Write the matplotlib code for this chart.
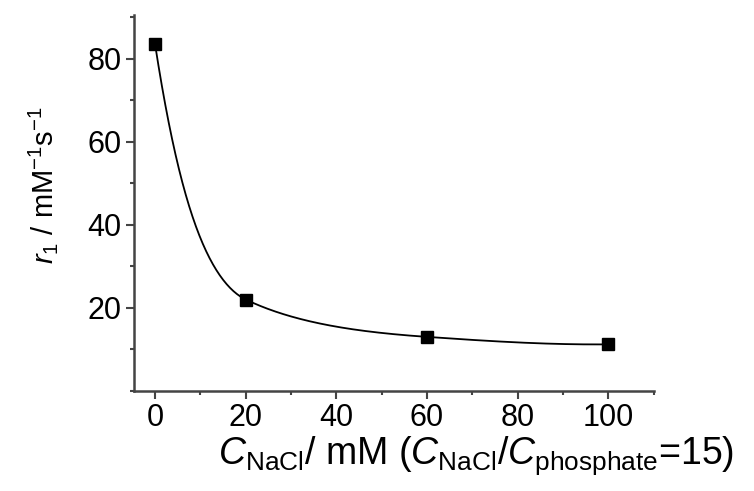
import numpy as np
import matplotlib
matplotlib.use("Agg")
import matplotlib.pyplot as plt
from matplotlib.ticker import MultipleLocator

plt.rcParams['font.family'] = ['Liberation Sans', 'DejaVu Sans']
plt.rcParams['mathtext.fontset'] = 'custom'
plt.rcParams['mathtext.rm'] = 'Liberation Sans'
plt.rcParams['mathtext.it'] = 'Liberation Sans:italic'

# data
c_nacl = np.array([0, 20, 60, 100])
r1 = np.array([83.5, 22.0, 13.0, 11.2])


def pchip(x, y, xs):
    # monotone cubic curve through the points (like the smooth connector in the original)
    h = np.diff(x).astype(float)
    d = np.diff(y) / h
    m = np.zeros_like(y, dtype=float)
    for i in range(1, len(x) - 1):
        if d[i - 1] * d[i] > 0:
            w1 = 2 * h[i] + h[i - 1]
            w2 = h[i] + 2 * h[i - 1]
            m[i] = (w1 + w2) / (w1 / d[i - 1] + w2 / d[i])
    m[0] = ((2 * h[0] + h[1]) * d[0] - h[0] * d[1]) / (h[0] + h[1])
    m[-1] = ((2 * h[-1] + h[-2]) * d[-1] - h[-1] * d[-2]) / (h[-1] + h[-2])
    idx = np.clip(np.searchsorted(x, xs) - 1, 0, len(x) - 2)
    t = (xs - x[idx]) / h[idx]
    h00 = 1 - 3 * t**2 + 2 * t**3
    h10 = t * (1 - t) ** 2
    h01 = 3 * t**2 - 2 * t**3
    h11 = t**2 * (t - 1)
    return h00 * y[idx] + h10 * h[idx] * m[idx] + h01 * y[idx + 1] + h11 * h[idx] * m[idx + 1]


xs = np.linspace(0, 100, 400)
ys = np.exp(pchip(c_nacl, np.log(r1), xs))

fig = plt.figure(figsize=(7.54, 4.91), dpi=100)
ax = fig.add_axes([0.178, 0.204, 0.689, 0.765])

ax.plot(xs, ys, color='black', lw=1.3)
ax.plot(c_nacl, r1, 's', color='black', ms=8)

ax.set_xlim(-4.6, 110)
ax.set_ylim(0, 90.5)
ax.xaxis.set_major_locator(MultipleLocator(20))
ax.xaxis.set_minor_locator(MultipleLocator(10))
ax.yaxis.set_major_locator(MultipleLocator(20))
ax.yaxis.set_minor_locator(MultipleLocator(10))
ax.set_yticks([20, 40, 60, 80])

for s in ['top', 'right']:
    ax.spines[s].set_visible(False)
for s in ['left', 'bottom']:
    ax.spines[s].set_color('#444444')
    ax.spines[s].set_linewidth(1.8)
ax.tick_params(which='major', direction='out', length=6, width=1.5, colors='#444444',
               labelsize=22, labelcolor='black', pad=3)
ax.tick_params(which='minor', direction='out', length=3, width=1.5, colors='#444444')

ax.set_ylabel(r'$r_1$ / mM$^{-1}$s$^{-1}$', fontsize=21)
ax.yaxis.set_label_coords(-0.142, 0.548)
ax.set_xlabel(r'$C_{\mathrm{NaCl}}$/ mM ($C_{\mathrm{NaCl}}$/$C_{\mathrm{phosphate}}$=15)',
              fontsize=27)
ax.xaxis.set_label_coords(0.658, -0.117)

fig.savefig('out.png', dpi=100)
